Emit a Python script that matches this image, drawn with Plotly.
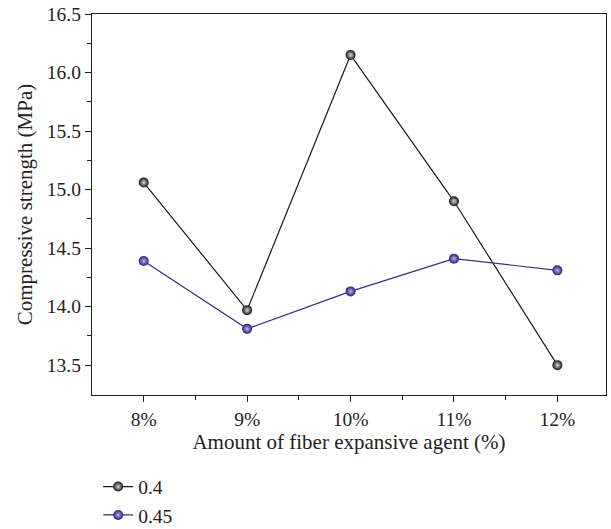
import plotly.graph_objects as go

x_vals = [8, 9, 10, 11, 12]
x_labels = ["8%", "9%", "10%", "11%", "12%"]
s04 = [15.06, 13.97, 16.15, 14.90, 13.50]
s045 = [14.39, 13.81, 14.13, 14.41, 14.31]
y_ticks = [13.5, 14.0, 14.5, 15.0, 15.5, 16.0, 16.5]
y_labels = ["13.5", "14.0", "14.5", "15.0", "15.5", "16.0", "16.5"]

FONT = "Liberation Serif"

fig = go.Figure()
fig.add_trace(go.Scatter(
    x=x_vals, y=s04, name="0.4", mode="lines+markers",
    line=dict(color="#1a1a1a", width=1.2),
    marker=dict(size=10, color="#111111",
                gradient=dict(type="radial", color="#d8d8d8"),
                line=dict(width=0)),
))
fig.add_trace(go.Scatter(
    x=x_vals, y=s045, name="0.45", mode="lines+markers",
    line=dict(color="#3a2a96", width=1.2),
    marker=dict(size=10, color="#2a1a80",
                gradient=dict(type="radial", color="#b8b0e8"),
                line=dict(width=0)),
))

fig.update_layout(
    width=611, height=529,
    margin=dict(l=92, r=5, t=14, b=134, autoexpand=False),
    plot_bgcolor="white", paper_bgcolor="white",
    font=dict(family=FONT, size=19, color="#222222"),
    showlegend=True,
    legend=dict(x=0.012, y=-0.19, xanchor="left", yanchor="top",
                font=dict(family=FONT, size=19.5, color="#222222"),
                bgcolor="rgba(0,0,0,0)", tracegroupgap=0),
    xaxis=dict(
        range=[7.5, 12.47], tickmode="array", tickvals=x_vals, ticktext=x_labels,
        ticks="outside", ticklen=6, tickwidth=1.2, tickcolor="#222222",
        showline=True, linecolor="#222222", linewidth=1.3, mirror=True,
        showgrid=False, zeroline=False, automargin=False,
        minor=dict(tickvals=[8.5, 9.5, 10.5, 11.5], ticks="outside", ticklen=4,
                   tickwidth=1.2, tickcolor="#222222"),
        title=dict(text="Amount of fiber expansive agent (%)", standoff=5,
                   font=dict(family=FONT, size=21)),
        tickfont=dict(family=FONT, size=19.5),
    ),
    yaxis=dict(
        range=[13.245, 16.5], tickmode="array", tickvals=y_ticks, ticktext=y_labels,
        ticks="outside", ticklen=6, tickwidth=1.2, tickcolor="#222222",
        showline=True, linecolor="#222222", linewidth=1.3, mirror=True,
        showgrid=False, zeroline=False, automargin=False,
        minor=dict(tickvals=[13.75, 14.25, 14.75, 15.25, 15.75, 16.25], ticks="outside",
                   ticklen=4, tickwidth=1.2, tickcolor="#222222"),
        title=dict(text="Compressive strength (MPa)", standoff=8,
                   font=dict(family=FONT, size=21)),
        tickfont=dict(family=FONT, size=19.5),
    ),
)

fig.write_html("out.html", config={"displayModeBar": False},
               post_script="document.body.style.margin='0';")
